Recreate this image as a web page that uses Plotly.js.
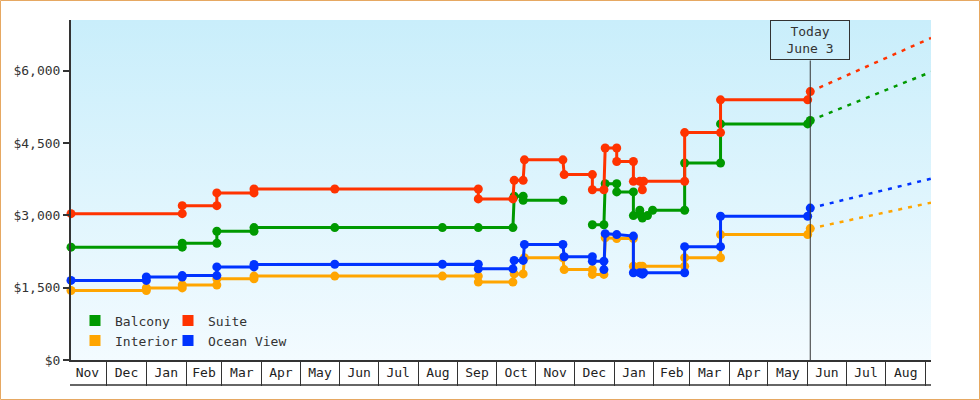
<!DOCTYPE html>
<html>
<head>
<meta charset="utf-8">
<script src="https://cdn.plot.ly/plotly-3.0.1.min.js"></script>
<style>
html,body{margin:0;padding:0;background:#fff;}
#chart{width:980px;height:400px;}
</style>
</head>
<body>
<div id="chart"></div>
<script>
// ---- data ----
const rangeStart = '2016-11-03 05:00';
const rangeEnd = '2018-09-05 05:00';
const today = '2018-06-03';

const seriesNames = ['Balcony', 'Suite', 'Interior', 'Ocean View'];

const suiteDates = ['2016-11-03 05:00','2017-01-29','2017-01-29','2017-02-25','2017-02-25','2017-03-26','2017-03-26','2017-05-28','2017-09-17','2017-09-17','2017-10-14','2017-10-15','2017-10-22','2017-10-23','2017-11-22','2017-11-23','2017-12-15','2017-12-15','2017-12-24','2017-12-25','2018-01-03','2018-01-03','2018-01-16','2018-01-16','2018-01-21','2018-01-23','2018-01-24','2018-02-25','2018-02-25','2018-03-25','2018-03-25','2018-06-01','2018-06-03'];
const suitePrices = [3035,3035,3200,3200,3465,3465,3545,3545,3545,3340,3340,3725,3725,4150,4150,3845,3845,3530,3530,4395,4395,4115,4115,3705,3705,3530,3705,3705,4715,4715,5395,5395,5565];

const balconyDates = ['2016-11-03 05:00','2017-01-29','2017-01-29','2017-02-25','2017-02-25','2017-03-26','2017-03-26','2017-05-28','2017-08-20','2017-09-17','2017-10-14','2017-10-15','2017-10-22','2017-10-22','2017-11-22',null,'2017-12-15','2017-12-24','2017-12-25','2018-01-03','2018-01-03','2018-01-16','2018-01-16','2018-01-21','2018-01-22','2018-01-23','2018-01-27','2018-01-31','2018-02-25','2018-02-25','2018-03-25','2018-03-25','2018-06-01','2018-06-03'];
const balconyPrices = [2340,2340,2420,2420,2670,2670,2745,2745,2745,2745,2745,3395,3395,3310,3310,null,2805,2805,3655,3655,3485,3485,2995,3105,2995,2945,2995,3105,3105,4085,4085,4895,4895,4965];

const interiorDates = ['2016-11-03 05:00','2017-01-01','2017-01-01','2017-01-29','2017-01-29','2017-02-25','2017-02-25','2017-03-26','2017-03-26','2017-05-28','2017-08-20','2017-09-17','2017-09-17','2017-10-14','2017-10-15','2017-10-22','2017-10-23','2017-11-22','2017-11-23','2017-12-15','2017-12-15','2017-12-24','2017-12-25','2018-01-03','2018-01-16','2018-01-16','2018-01-21','2018-01-23','2018-02-25','2018-02-25','2018-03-25','2018-03-25','2018-06-01','2018-06-03'];
const interiorPrices = [1440,1440,1495,1495,1555,1555,1685,1685,1740,1740,1740,1740,1615,1615,1785,1785,2120,2120,1875,1875,1775,1775,2535,2520,2520,1945,1945,1945,1945,2120,2120,2600,2600,2725];

const oceanDates = ['2016-11-03 05:00','2017-01-01','2017-01-01','2017-01-29','2017-01-29','2017-02-25','2017-02-25','2017-03-26','2017-03-26','2017-05-28','2017-08-20','2017-09-17','2017-09-17','2017-10-14','2017-10-15','2017-10-22','2017-10-23','2017-11-22','2017-11-23','2017-12-15','2017-12-15','2017-12-24','2017-12-24','2017-12-25','2018-01-03','2018-01-16','2018-01-16','2018-01-21','2018-01-23','2018-01-24','2018-02-25','2018-02-25','2018-03-25','2018-03-25','2018-06-01','2018-06-03'];
const oceanPrices = [1650,1650,1720,1720,1750,1750,1930,1930,1980,1985,1985,1985,1890,1890,2065,2065,2395,2395,2140,2140,2050,2050,1875,2620,2600,2570,1810,1810,1780,1810,1810,2350,2350,2980,2980,3150];

// projections (today -> end of axis)
const projDates = [today, rangeEnd];
const suiteProjection = [5565, 6677];
const balconyProjection = [4965, 5973];
const oceanProjection = [3150, 3759];
const interiorProjection = [2725, 3263];

const yTicks = [0, 1500, 3000, 4500, 6000];
const yTickLabels = ['$0', '$1,500', '$3,000', '$4,500', '$6,000'];
const todayLabel = 'Today<br>June 3';

// ---- styles ----
const FONT = 'DejaVu Sans Mono, monospace';
const TXT = '#333333';
const colors = {Balcony:'#009900', Suite:'#ff3300', Interior:'#ffa500', 'Ocean View':'#0033ff'};

function lineTrace(name, x, y) {
  return {type:'scatter', mode:'lines+markers', name:name, x:x, y:y,
    line:{color:colors[name], width:3}, marker:{symbol:'circle', size:9, color:colors[name]},
    showlegend:false, cliponaxis:false, connectgaps:false, hoverinfo:'x+y'};
}
function projTrace(name, y) {
  return {type:'scatter', mode:'lines', name:name + ' projection', x:projDates, y:y,
    line:{color:colors[name], width:2.5, dash:'4px,6px'}, showlegend:false, hoverinfo:'skip'};
}
function legendTrace(name, legend, w) {
  return {type:'scatter', mode:'markers', name:name, x:[null], y:[null], legend:legend, legendwidth:w,
    marker:{symbol:'square', size:11, color:colors[name]}, showlegend:true, hoverinfo:'skip'};
}

const traces = [
  projTrace('Interior', interiorProjection),
  projTrace('Ocean View', oceanProjection),
  projTrace('Balcony', balconyProjection),
  projTrace('Suite', suiteProjection),
  lineTrace('Interior', interiorDates, interiorPrices),
  lineTrace('Ocean View', oceanDates, oceanPrices),
  lineTrace('Balcony', balconyDates, balconyPrices),
  lineTrace('Suite', suiteDates, suitePrices),
  legendTrace('Balcony', 'legend', 48),
  legendTrace('Suite', 'legend', 90),
  legendTrace('Interior', 'legend2', 48),
  legendTrace('Ocean View', 'legend2', 90)
];

const W = 980, H = 400, ML = 71, MR = 49, MT = 20, MB = 40;
const PW = W - ML - MR, PH = H - MT - MB;
const px = v => (v - ML) / PW;
const py = v => (H - MB - v) / PH;

const gradSvg = "<svg xmlns='http://www.w3.org/2000/svg' width='100' height='100' preserveAspectRatio='none'>" +
  "<defs><linearGradient id='g' x1='0' y1='0' x2='0' y2='1'>" +
  "<stop offset='0' stop-color='#c9eefb'/><stop offset='1' stop-color='#f3fbff'/></linearGradient></defs>" +
  "<rect width='100' height='100' fill='url(#g)'/></svg>";
const gradUri = 'data:image/svg+xml;charset=utf-8,' + encodeURIComponent(gradSvg);

const legendBase = {orientation:'h', xanchor:'left', yanchor:'middle', bgcolor:'rgba(0,0,0,0)',
  borderwidth:0, font:{family:FONT, size:13, color:TXT}, entrywidthmode:'pixels',
  traceorder:'normal', itemclick:false, itemdoubleclick:false};

const layout = {
  width:W, height:H,
  margin:{l:ML, r:MR, t:MT, b:MB, pad:0},
  paper_bgcolor:'#ffffff', plot_bgcolor:'rgba(0,0,0,0)',
  font:{family:FONT, size:13, color:TXT},
  showlegend:true,
  legend:Object.assign({}, legendBase, {x:px(75), y:py(320.5)}),
  legend2:Object.assign({}, legendBase, {x:px(75), y:py(340.5)}),
  xaxis:{type:'date', range:[rangeStart, rangeEnd], showline:true, linecolor:'#333', linewidth:2,
    ticks:'outside', ticklen:24, tickwidth:1, tickcolor:'#333', dtick:'M1', tick0:'2016-11-01',
    tickformat:'%b', ticklabelmode:'period', ticklabelstandoff:-25, showgrid:false, zeroline:false,
    tickfont:{family:FONT, size:13, color:'#222'}, fixedrange:true},
  yaxis:{range:[0, 7050], tickmode:'array', tickvals:yTicks, ticktext:yTickLabels,
    showline:true, linecolor:'#333', linewidth:2, ticks:'outside', ticklen:6, tickwidth:2, tickcolor:'#333',
    showgrid:false, zeroline:false, tickfont:{family:FONT, size:13, color:'#333'}, fixedrange:true},
  images:[{source:gradUri, xref:'paper', yref:'paper', x:0, y:1, sizex:1, sizey:1,
    sizing:'stretch', xanchor:'left', yanchor:'top', layer:'below'}],
  shapes:[
    {type:'line', xref:'x', yref:'paper', x0:today, x1:today, y0:0, y1:py(60.5), line:{color:'#333', width:1}},
    {type:'line', xref:'paper', yref:'paper', x0:px(70), x1:1, y0:py(385), y1:py(385), line:{color:'#333', width:1.5}},
    {type:'rect', xref:'paper', yref:'paper', x0:px(0.5), x1:px(979.5), y0:py(399.5), y1:py(0.5), line:{color:'#e6a862', width:1}}
  ],
  annotations:[
    {x:today, xref:'x', y:1, yref:'paper', xanchor:'center', yanchor:'top', text:todayLabel, showarrow:false,
     bordercolor:'#333', borderwidth:1, borderpad:0, width:78, height:38, bgcolor:'rgba(0,0,0,0)',
     font:{family:FONT, size:13, color:TXT}}
  ]
};

Plotly.newPlot('chart', traces, layout, {displayModeBar:false, staticPlot:true});
</script>
</body>
</html>
